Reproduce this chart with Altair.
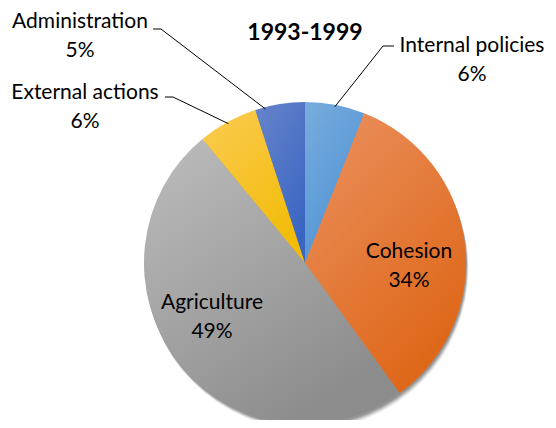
import math
import altair as alt
import pandas as pd

# ---- data ----
categories = ["Internal policies", "Cohesion", "Agriculture", "External actions", "Administration"]
shares = [6, 34, 49, 6, 5]
label_text = ["Internal policies\n6%", "Cohesion\n34%", "Agriculture\n49%", "External actions\n6%", "Administration\n5%"]
title_text = "1993-1999"

# ---- styles / layout (not data) ----
grad_colors = {
    "Internal policies": ("#78acdd", "#4f92d4"),
    "Cohesion": ("#eb9160", "#de6718"),
    "Agriculture": ("#bdbdbd", "#8c8c8c"),
    "External actions": ("#fbcb52", "#f2bc08"),
    "Administration": ("#6784cb", "#3a66c2"),
}
W, H = 540, 412
CX, CY, R = 297, 255, 161
FONT = "Lato"
FS = 21

# first-line centre of each label (chart coords)
label_pos = {
    "Internal policies": (464, 38),
    "Cohesion": (401, 244),
    "Agriculture": (204, 295),
    "External actions": (77, 85),
    "Administration": (72, 14),
}
# leader lines: (text-side x, y, elbow x, anchor fraction within slice)
leader = {
    "Internal policies": (386, 38, 375, 0.5),
    "External actions": (157, 89, 165, 0.5),
    "Administration": (145, 21, 153, 0.2),
}

df = pd.DataFrame({"cat": categories, "value": shares})
df["end"] = df["value"].cumsum()
df["start"] = df["end"] - df["value"]

theta_scale = alt.Scale(domain=[0, 100], range=[0, 2 * math.pi])

def grad(c1, c2):
    return alt.LinearGradient(
        gradient="linear",
        stops=[alt.GradientStop(color=c1, offset=0), alt.GradientStop(color=c2, offset=1)],
        x1=0, y1=0, x2=0.6, y2=1,
    )

base = alt.Chart(df)

layers = []
# soft shadow
for off, op in [(6, 0.06), (5, 0.08), (4, 0.10), (3, 0.12), (2, 0.14)]:
    layers.append(
        alt.Chart(pd.DataFrame({"a": [0], "b": [100]})).mark_arc(
            fill="#000000", opacity=op, radius=R
        ).encode(
            theta=alt.Theta("a:Q", scale=theta_scale),
            theta2="b:Q",
            x=alt.value(CX + off * 0.4),
            y=alt.value(CY + off),
        )
    )

for c in categories:
    c1, c2 = grad_colors[c]
    layers.append(
        base.transform_filter(alt.datum.cat == c).mark_arc(
            fill=grad(c1, c2), radius=R
        ).encode(
            theta=alt.Theta("start:Q", scale=theta_scale),
            theta2="end:Q",
            x=alt.value(CX),
            y=alt.value(CY),
        )
    )

rows = []
for c, (tx, ty, ex, frac) in leader.items():
    r = df.loc[df.cat == c].iloc[0]
    pos = float(r["start"] + frac * r["value"])
    ang = pos / 100 * 2 * math.pi
    px = CX + math.sin(ang) * (R - 2)
    py = CY - math.cos(ang) * (R - 2)
    rows.append({"cat": c, "x1": px, "y1": py, "x2": ex, "y2": ty})
    rows.append({"cat": c, "x1": ex, "y1": ty, "x2": tx, "y2": ty})
lines_df = pd.DataFrame(rows)
pix = alt.Scale(domain=[0, W], range=[0, W])
piy = alt.Scale(domain=[0, H], range=[0, H])
layers.append(
    alt.Chart(lines_df).mark_rule(color="#000000", strokeWidth=1).encode(
        x=alt.X("x1:Q", scale=pix, axis=None),
        y=alt.Y("y1:Q", scale=piy, axis=None),
        x2="x2:Q",
        y2="y2:Q",
    )
)

lab = pd.DataFrame({"cat": categories, "text": label_text})
lab["lx"] = [label_pos[c][0] for c in categories]
lab["ly"] = [label_pos[c][1] for c in categories]
layers.append(
    alt.Chart(lab).mark_text(
        font=FONT, fontSize=FS, color="#000000", lineBreak="\n", lineHeight=29,
        align="center", baseline="middle",
    ).encode(
        x=alt.X("lx:Q", scale=pix, axis=None),
        y=alt.Y("ly:Q", scale=piy, axis=None),
        text="text:N",
    )
)

layers.append(
    alt.Chart(pd.DataFrame({"t": [title_text]})).mark_text(
        font=FONT, fontSize=23, fontWeight="bold", color="#000000",
        align="center", baseline="middle",
    ).encode(x=alt.value(297), y=alt.value(25), text="t:N")
)

chart = alt.layer(*layers).properties(
    width=W, height=H, padding=0, background="#ffffff",
    autosize=alt.AutoSizeParams(type="none"),
).configure_view(stroke=None, strokeWidth=0)

chart.save("out.html", embed_options={"renderer": "svg", "actions": False})
